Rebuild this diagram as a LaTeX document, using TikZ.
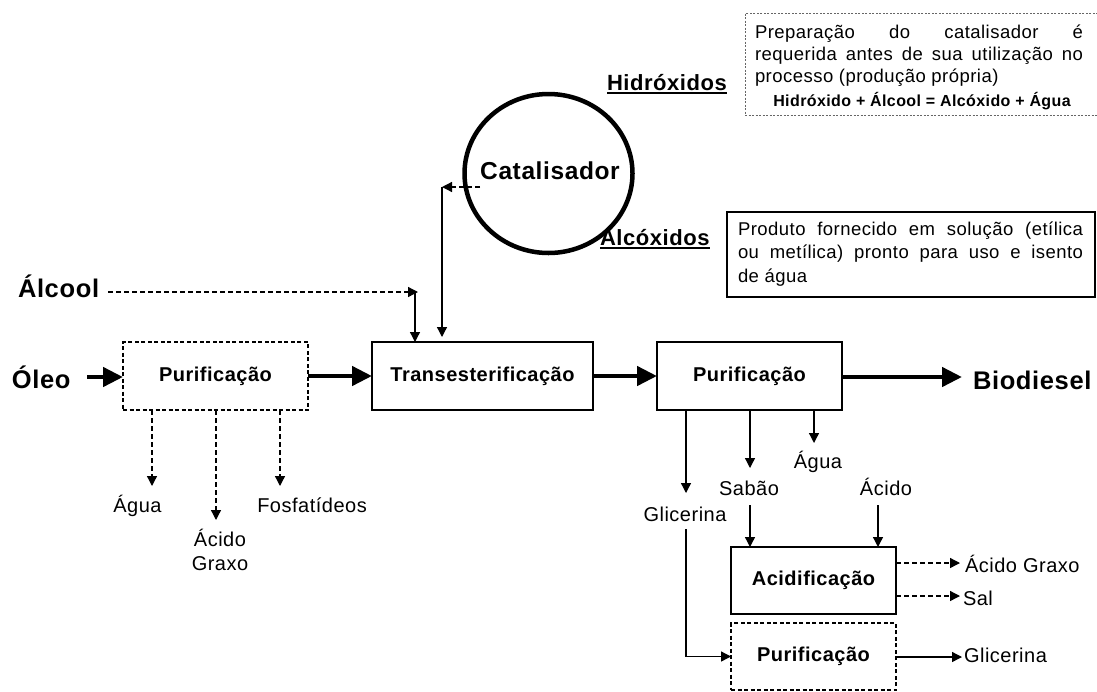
\documentclass[tikz,border=0pt]{standalone}
\usepackage{fontspec}
\setmainfont{Liberation Sans}[LetterSpace=2.5]
\usetikzlibrary{arrows.meta,shapes.geometric}
\begin{document}
\begin{tikzpicture}[x=1pt,y=-1pt,
  every node/.style={inner sep=0pt, outer sep=0pt},
  procbox/.style={draw, line width=1.4pt, minimum width=#1, minimum height=68pt,
    font=\fontsize{20}{24}\selectfont\bfseries},
  dashbox/.style={dash pattern=on 4pt off 2.5pt, line width=1.6pt},
  biglbl/.style={font=\fontsize{25.5}{30}\selectfont\bfseries},
  midlbl/.style={font=\fontsize{22}{26}\selectfont\bfseries},
  lbl/.style={font=\fontsize{20}{24}\selectfont},
  txt/.style={font=\fontsize{18.5}{22}\selectfont},
  fatarr/.style={line width=4.5pt, -{Triangle[length=20pt,width=19pt]}},
  arr/.style={line width=1.3pt, -{Triangle[length=10pt,width=10pt]}},
  darr/.style={arr, dash pattern=on 5pt off 3pt},
  uline/.style={line width=2pt}
]
\useasboundingbox (0,0) rectangle (1097,691);

% process boxes
\node[procbox=185pt, dashbox] (p1) at (215.5,376) {Purificação};
\node[procbox=221pt] (tr) at (482.5,376) {Transesterificação};
\node[procbox=185pt] (p2) at (749.5,376) {Purificação};
\node[procbox=165pt, minimum height=67pt] (ac) at (813.5,580.5) {Acidificação};
\node[procbox=165pt, minimum height=67pt, dashbox] (p3) at (813.5,656.5) {Purificação};

% catalyst
\node[ellipse, draw, line width=4.5pt, minimum width=168pt, minimum height=159pt] (cat) at (548.5,173.5) {};
\node[font=\fontsize{24.5}{28}\selectfont\bfseries] (cattxt) at (550,171) {Catalisador};

% big labels
\node[biglbl, anchor=base west] (oleo) at (12,388) {Óleo};
\node[biglbl, anchor=base west] (alc) at (18,297) {Álcool};
\node[biglbl, anchor=base west] (bio) at (973,389) {Biodiesel};
\node[midlbl, anchor=base west] (hid) at (607,90) {Hidróxidos};
\node[midlbl, anchor=base west] (alx) at (600,245) {Alcóxidos};
\draw[uline] ([yshift=-3pt]hid.base west) -- ([yshift=-3pt]hid.base east);
\draw[uline] ([yshift=-3pt]alx.base west) -- ([yshift=-3pt]alx.base east);

% note boxes
\node[draw=black!60, line width=0.9pt, dash pattern=on 2pt off 1.5pt,
  minimum width=353pt, minimum height=102pt] (tb) at (921.5,64) {};
\node[txt, text width=328pt, align=justify, anchor=base west] (tt) at (755,38)
  {Preparação do catalisador é\linebreak requerida antes de sua utilização no\linebreak processo (produção própria)};
\node[font=\fontsize{16}{18}\selectfont\bfseries, anchor=base] (tf) at (922,106)
  {Hidróxido + Álcool = Alcóxido + Água};

\node[draw, line width=1.3pt, minimum width=368pt, minimum height=85pt] (rb) at (911,254.5) {};
\node[font=\fontsize{18.5}{23.5}\selectfont, text width=345pt, align=justify, anchor=base west] (rt) at (738,235)
  {Produto fornecido em solução (etílica\linebreak ou metílica) pronto para uso e isento\linebreak de água};

% small labels
\node[lbl, anchor=base] (ag1) at (137.5,512) {Água};
\node[lbl, anchor=base, align=center] (agx1) at (220,570) {Ácido\\Graxo};
\node[lbl, anchor=base] (fos) at (312,512) {Fosfatídeos};
\node[lbl, anchor=base] (gl1) at (685,521) {Glicerina};
\node[lbl, anchor=base] (sab) at (749,495) {Sabão};
\node[lbl, anchor=base] (ag2) at (818,468) {Água};
\node[lbl, anchor=base] (aci) at (886,495) {Ácido};
\node[lbl, anchor=base west] (agx2) at (965,572) {Ácido Graxo};
\node[lbl, anchor=base west] (sal) at (963,605) {Sal};
\node[lbl, anchor=base west] (gl2) at (964,662) {Glicerina};

% main line
\coordinate (oS) at (87,377);
\draw[fatarr] (oS) -- (oS -| p1.west);
\draw[fatarr] (p1) -- (tr);
\draw[fatarr] (tr) -- (p2);
\coordinate (bE) at (962,377);
\draw[fatarr] (p2.east |- bE) -- (bE);

% alcohol feed
\coordinate (aS) at (108,292);
\coordinate (aJ) at (418,292);
\coordinate (aV) at (415,292);
\draw[darr] (aS) -- (aJ);
\draw[arr] (aV) -- (aV |- tr.north);

% catalyst feed
\coordinate (cS) at (480,187);
\coordinate (cJ) at (442,187);
\draw[darr] (cS) -- (cJ);
\draw[arr, shorten >=5pt] (cJ) -- (cJ |- tr.north);

% outputs of first purification
\coordinate (d1) at (152,486);
\coordinate (d2) at (216,520);
\coordinate (d3) at (280,486);
\draw[darr] (d1 |- p1.south) -- (d1);
\draw[darr] (d2 |- p1.south) -- (d2);
\draw[darr] (d3 |- p1.south) -- (d3);

% outputs of second purification
\coordinate (e1) at (686,493);
\coordinate (e2) at (750,468);
\coordinate (e3) at (814,443);
\draw[arr] (e1 |- p2.south) -- (e1);
\draw[arr] (e2 |- p2.south) -- (e2);
\draw[arr] (e3 |- p2.south) -- (e3);

% acidification
\coordinate (sS) at (750,505);
\coordinate (qS) at (878,505);
\draw[arr] (sS) -- (sS |- ac.north);
\draw[arr] (qS) -- (qS |- ac.north);
\coordinate (f1) at (960,563);
\coordinate (f2) at (960,596);
\draw[darr] (f1 -| ac.east) -- (f1);
\draw[darr] (f2 -| ac.east) -- (f2);

% glycerine
\coordinate (gS) at (686,529);
\draw[arr] (gS) |- (p3.west);
\coordinate (gE) at (962,657);
\draw[arr] (gE -| p3.east) -- (gE);
\end{tikzpicture}
\end{document}
